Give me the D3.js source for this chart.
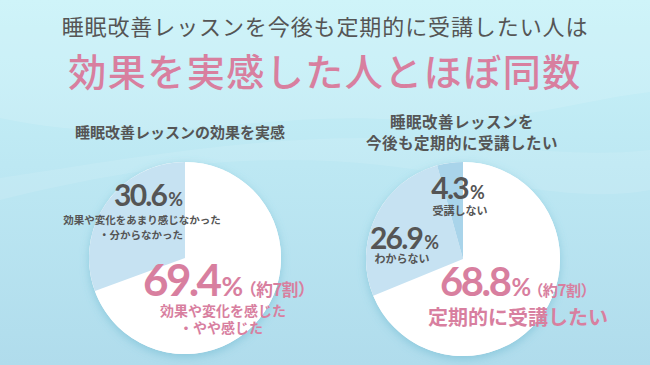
<!DOCTYPE html>
<html lang="ja">
<head>
<meta charset="UTF-8">
<title>睡眠改善レッスン</title>
<script src="https://d3js.org/d3.v7.min.js"></script>
<style>
  body { margin: 0; }
  svg text { font-family: "Noto Sans CJK JP", "Noto Sans", sans-serif; }
  .num { font-family: Lato, "Noto Sans", sans-serif; font-weight: 700; }
</style>
</head>
<body>
<div id="chart"></div>
<script>
// data
const leftTitle = ["睡眠改善レッスンの効果を実感"];
const leftLabels = ["効果や変化を感じた・やや感じた", "効果や変化をあまり感じなかった・分からなかった"];
const leftValues = [69.4, 30.6];

const rightTitle = ["睡眠改善レッスンを", "今後も定期的に受講したい"];
const rightLabels = ["定期的に受講したい", "わからない", "受講しない"];
const rightValues = [68.8, 26.9, 4.3];

const W = 650, H = 365;
const pink = "#d87f9f", gray = "#555555";
const sliceColors = ["#ffffff", "#c6e2f2", "#a9d4ea"];

const svg = d3.select("#chart").append("svg")
    .attr("width", W).attr("height", H);

const defs = svg.append("defs");
const bg = defs.append("linearGradient").attr("id", "bg")
    .attr("x1", 0).attr("y1", 0).attr("x2", 0).attr("y2", 1);
bg.append("stop").attr("offset", "0%").attr("stop-color", "#c9f3f9");
bg.append("stop").attr("offset", "45%").attr("stop-color", "#bde8f3");
bg.append("stop").attr("offset", "100%").attr("stop-color", "#b0dcec");

const shadow = defs.append("filter").attr("id", "shadow")
    .attr("x", "-20%").attr("y", "-20%").attr("width", "140%").attr("height", "140%");
shadow.append("feDropShadow").attr("dx", 0).attr("dy", 3).attr("stdDeviation", 5)
    .attr("flood-color", "#5aaec8").attr("flood-opacity", 0.45);

svg.append("rect").attr("width", W).attr("height", H).attr("fill", "url(#bg)");

// soft waves in background
svg.append("path")
    .attr("d", "M0,118 C150,150 260,110 400,120 C500,128 580,100 650,92 L650,0 L0,0 Z")
    .attr("fill", "#ffffff").attr("opacity", 0.12);
svg.append("path")
    .attr("d", "M0,200 C120,170 250,150 380,165 C480,176 570,205 650,190 L650,150 C560,160 470,140 380,138 C250,136 120,160 0,178 Z")
    .attr("fill", "#ffffff").attr("opacity", 0.1);

// titles
svg.append("text").attr("x", W / 2).attr("y", 35).attr("text-anchor", "middle")
    .attr("font-size", 22).attr("letter-spacing", 0.9).attr("fill", gray)
    .text("睡眠改善レッスンを今後も定期的に受講したい人は");
svg.append("text").attr("x", W / 2).attr("y", 86).attr("text-anchor", "middle")
    .attr("font-size", 38).attr("letter-spacing", 1.5).attr("fill", pink)
    .attr("font-weight", 500)
    .text("効果を実感した人とほぼ同数");

const pie = d3.pie().sort(null).value(d => d);

function drawPie(cx, cy, r, values) {
  const g = svg.append("g").attr("transform", `translate(${cx},${cy})`);
  const arc = d3.arc().innerRadius(0).outerRadius(r);
  g.append("circle").attr("r", r).attr("fill", "#ffffff").attr("filter", "url(#shadow)");
  g.selectAll("path").data(pie(values)).join("path")
      .attr("d", arc)
      .attr("fill", (d, i) => sliceColors[i]);
  return g;
}

function pctText(g, x, y, anchor, value, size, color, extra) {
  const t = g.append("text").attr("x", x).attr("y", y).attr("text-anchor", anchor)
      .attr("fill", color);
  t.append("tspan").attr("class", "num").attr("font-size", size)
      .attr("letter-spacing", -size * 0.06).text(value.toFixed(1));
  t.append("tspan").attr("class", "num").attr("font-size", size * 0.6)
      .attr("font-weight", 400).attr("dx", 2).text("%");
  if (extra) {
    t.append("tspan").attr("font-size", size * 0.38).attr("font-weight", 700)
        .attr("dx", -3).attr("letter-spacing", -0.5).text(extra);
  }
}

function label(g, x, y, txt, size, color, anchor) {
  g.append("text").attr("x", x).attr("y", y).attr("text-anchor", anchor || "middle")
      .attr("font-size", size).attr("font-weight", 700).attr("fill", color).text(txt);
}

// left pie
const L = drawPie(185, 258, 96, leftValues);
svg.append("text").attr("x", 180).attr("y", 138).attr("text-anchor", "middle")
    .attr("font-size", 15).attr("font-weight", 700).attr("fill", gray)
    .text(leftTitle[0]);
pctText(L, -2, -52, "end", leftValues[1], 30, gray);
label(L, -43, -34, leftLabels[1].split("・")[0], 10.5, gray);
label(L, -2, -19, "・" + leftLabels[1].split("・")[1], 10.5, gray, "end");
pctText(L, -42, 38, "start", leftValues[0], 44, pink, "（約7割）");
label(L, 38, 58, leftLabels[0].split("・")[0], 14, pink);
label(L, 36, 75, "・" + leftLabels[0].split("・")[1], 14, pink);

// right pie
const R = drawPie(463, 259, 97, rightValues);
rightTitle.forEach((t, i) => {
  svg.append("text").attr("x", 462).attr("y", 128 + i * 21).attr("text-anchor", "middle")
      .attr("font-size", 15.5).attr("font-weight", 700).attr("letter-spacing", 0.5)
      .attr("fill", gray).text(t);
});
pctText(R, -5, -60, "middle", rightValues[2], 30, gray);
label(R, -3, -44, rightLabels[2], 11, gray);
pctText(R, -93, -10, "start", rightValues[1], 30, gray);
label(R, -61, 4, rightLabels[1], 11, gray);
pctText(R, -23, 37, "start", rightValues[0], 40, pink, "（約7割）");
label(R, 55, 66, rightLabels[0], 20, pink);
</script>
</body>
</html>
